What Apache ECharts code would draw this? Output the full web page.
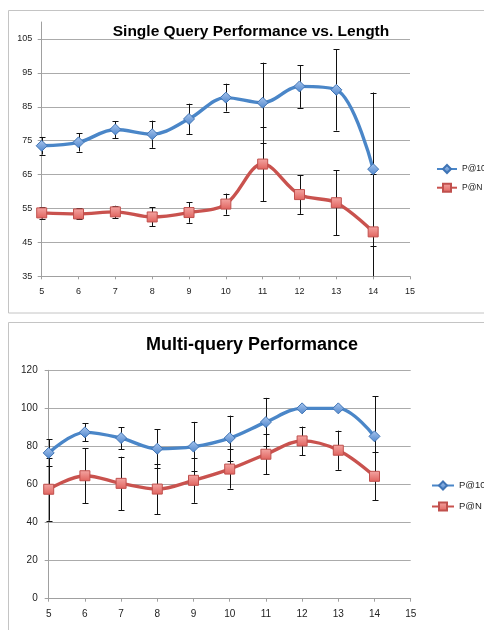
<!DOCTYPE html>
<html>
<head>
<meta charset="utf-8">
<script src="https://cdn.jsdelivr.net/npm/echarts@6/dist/echarts.min.js"></script>
<style>
html,body{margin:0;padding:0;background:#fff;overflow:hidden;}
#main{width:484px;height:630px;}
</style>
</head>
<body>
<div id="main"></div>
<script>
// ---- data ----
const lengths = [5, 6, 7, 8, 9, 10, 11, 12, 13, 14];

const singleTitle = 'Single Query Performance vs. Length';
const singleP10 = [73.5, 74.5, 78.3, 76.9, 81.4, 87.7, 86.2, 91.0, 90.0, 66.6];
const singleP10Err = [2.6, 2.7, 2.5, 4.0, 4.5, 4.1, 11.8, 6.3, 12.0, 22.6];
const singlePN = [53.7, 53.4, 54.0, 52.5, 53.8, 56.3, 68.1, 59.1, 56.7, 48.1];
const singlePNErr = [1.7, 1.6, 1.8, 2.8, 3.0, 3.1, 11.0, 5.7, 9.6, 17.0];
const singleYTicks = [35, 45, 55, 65, 75, 85, 95, 105];

const multiTitle = 'Multi-query Performance';
const multiP10 = [76.6, 87.4, 84.4, 78.8, 79.9, 84.4, 92.8, 100.0, 100.0, 85.3];
const multiP10Err = [7.1, 4.7, 5.8, 10.2, 13.0, 11.8, 12.7, 0, 0, 21.0];
const multiPN = [57.5, 64.6, 60.6, 57.6, 62.2, 68.1, 75.9, 82.9, 78.0, 64.3];
const multiPNErr = [16.5, 14.4, 14.0, 13.2, 11.8, 10.3, 10.4, 7.5, 10.3, 12.6];

const seriesNames = ['P@10', 'P@N'];

// ---- helpers ----
const FONT = '"Liberation Sans", Arial, sans-serif';
const GRID_COLOR = '#ababab';
const AXIS_COLOR = '#a0a0a0';
const BLUE = '#4a86c8';
const RED = '#c9524e';

function pts(vals) { return vals.map((v, i) => [lengths[i], v]); }
function errs(vals, e) { return vals.map((v, i) => [lengths[i], v - e[i], v + e[i]]); }

function errRender(params, api) {
  const x = api.value(0), lo = api.value(1), hi = api.value(2);
  if (hi - lo < 1e-9) return null;
  const cs = params.coordSys;
  const pHi = api.coord([x, hi]);
  const pLo = api.coord([x, lo]);
  const cx = Math.round(pHi[0]) + 0.5;
  const yTop = Math.max(pHi[1], cs.y);
  const yBot = Math.min(pLo[1], cs.y + cs.height);
  const st = { stroke: '#111', lineWidth: 1 };
  const ch = [{ type: 'line', shape: { x1: cx, y1: yTop, x2: cx, y2: yBot }, style: st }];
  if (pHi[1] >= cs.y) ch.push({ type: 'line', shape: { x1: cx - 3, y1: Math.round(pHi[1]) + 0.5, x2: cx + 3, y2: Math.round(pHi[1]) + 0.5 }, style: st });
  if (pLo[1] <= cs.y + cs.height) ch.push({ type: 'line', shape: { x1: cx - 3, y1: Math.round(pLo[1]) + 0.5, x2: cx + 3, y2: Math.round(pLo[1]) + 0.5 }, style: st });
  return { type: 'group', children: ch };
}

const blueFill = new echarts.graphic.LinearGradient(0, 0, 0, 1, [
  { offset: 0, color: '#a9c6ee' }, { offset: 1, color: '#4f86cc' }]);
const redFill = new echarts.graphic.LinearGradient(0, 0, 0, 1, [
  { offset: 0, color: '#f4a7a4' }, { offset: 1, color: '#e0625d' }]);

function lineSeries(name, data, idx, isBlue) {
  return {
    name: name, type: 'line', xAxisIndex: idx, yAxisIndex: idx,
    data: data, smooth: 0.35,
    symbol: isBlue ? 'diamond' : 'rect',
    symbolSize: isBlue ? 11 : 10,
    lineStyle: { color: isBlue ? BLUE : RED, width: 3.4 },
    itemStyle: { color: isBlue ? blueFill : redFill, borderColor: isBlue ? '#3f74b5' : '#c0504d', borderWidth: 1 },
    z: 3, animation: false
  };
}

function errSeries(data, idx) {
  return { type: 'custom', xAxisIndex: idx, yAxisIndex: idx, data: data, renderItem: errRender, z: 2, silent: true, animation: false };
}

function xAxis(idx, fs, margin) {
  return {
    gridIndex: idx, type: 'value', min: 5, max: 15, interval: 1,
    axisLine: { show: true, onZero: false, lineStyle: { color: AXIS_COLOR, width: 1 } },
    axisTick: { show: true, inside: false, length: 3, lineStyle: { color: AXIS_COLOR } },
    axisLabel: { fontFamily: FONT, fontSize: fs, color: '#222', margin: margin },
    splitLine: { show: false }
  };
}

const chart = echarts.init(document.getElementById('main'), null, { renderer: 'canvas' });

const option = {
  backgroundColor: '#fff',
  animation: false,
  graphic: [
    { type: 'rect', shape: { x: 8.5, y: 10.5, width: 490, height: 302.5 }, style: { fill: 'none', stroke: '#c4c4c4', lineWidth: 1 }, z: -10 },
    { type: 'rect', shape: { x: 8.5, y: 322.5, width: 490, height: 330 }, style: { fill: 'none', stroke: '#c4c4c4', lineWidth: 1 }, z: -10 },
    { type: 'text', x: 251, y: 31.5, style: { text: singleTitle, font: 'bold 15.5px ' + FONT, fill: '#000', align: 'center', verticalAlign: 'middle' }, z: 10 },
    { type: 'text', x: 252, y: 345.5, style: { text: multiTitle, font: 'bold 18px ' + FONT, fill: '#000', align: 'center', verticalAlign: 'middle' }, z: 10 }
  ],
  legend: [
    { orient: 'vertical', left: 436, top: 164, padding: 0, itemWidth: 20, itemHeight: 10, itemGap: 8.7,
      data: seriesNames, textStyle: { fontFamily: FONT, fontSize: 8.5, color: '#222', lineHeight: 10 }, selectedMode: false },
    { orient: 'vertical', left: 431, top: 480.5, padding: 0, itemWidth: 22, itemHeight: 10, itemGap: 11,
      data: seriesNames, textStyle: { fontFamily: FONT, fontSize: 9.5, color: '#222', lineHeight: 10 }, selectedMode: false }
  ],
  grid: [
    { left: 41.7, right: 74, top: 22, bottom: 353.7, outerBoundsMode: 'none', containLabel: false },
    { left: 48.7, right: 73.3, top: 370.3, bottom: 31.3, outerBoundsMode: 'none', containLabel: false }
  ],
  xAxis: [xAxis(0, 9, 11), xAxis(1, 10, 11)],
  yAxis: [
    { gridIndex: 0, type: 'value', min: 35, max: 110, interval: 10,
      axisLine: { show: true, lineStyle: { color: AXIS_COLOR, width: 1 } },
      axisTick: { show: true, length: 4, lineStyle: { color: AXIS_COLOR }, customValues: singleYTicks },
      axisLabel: { fontFamily: FONT, fontSize: 9, color: '#222', margin: 9.5, customValues: singleYTicks },
      splitLine: { show: true, lineStyle: { color: GRID_COLOR, width: 1 } }
    },
    { gridIndex: 1, type: 'value', min: 0, max: 120, interval: 20,
      axisLine: { show: true, lineStyle: { color: AXIS_COLOR, width: 1 } },
      axisTick: { show: true, length: 4, lineStyle: { color: AXIS_COLOR } },
      axisLabel: { fontFamily: FONT, fontSize: 10, color: '#222', margin: 11 },
      splitLine: { show: true, lineStyle: { color: GRID_COLOR, width: 1 } }
    }
  ],
  series: [
    errSeries(errs(singleP10, singleP10Err), 0),
    errSeries(errs(singlePN, singlePNErr), 0),
    lineSeries(seriesNames[0], pts(singleP10), 0, true),
    lineSeries(seriesNames[1], pts(singlePN), 0, false),
    errSeries(errs(multiP10, multiP10Err), 1),
    errSeries(errs(multiPN, multiPNErr), 1),
    lineSeries(seriesNames[0], pts(multiP10), 1, true),
    lineSeries(seriesNames[1], pts(multiPN), 1, false)
  ]
};
chart.setOption(option);
</script>
</body>
</html>
